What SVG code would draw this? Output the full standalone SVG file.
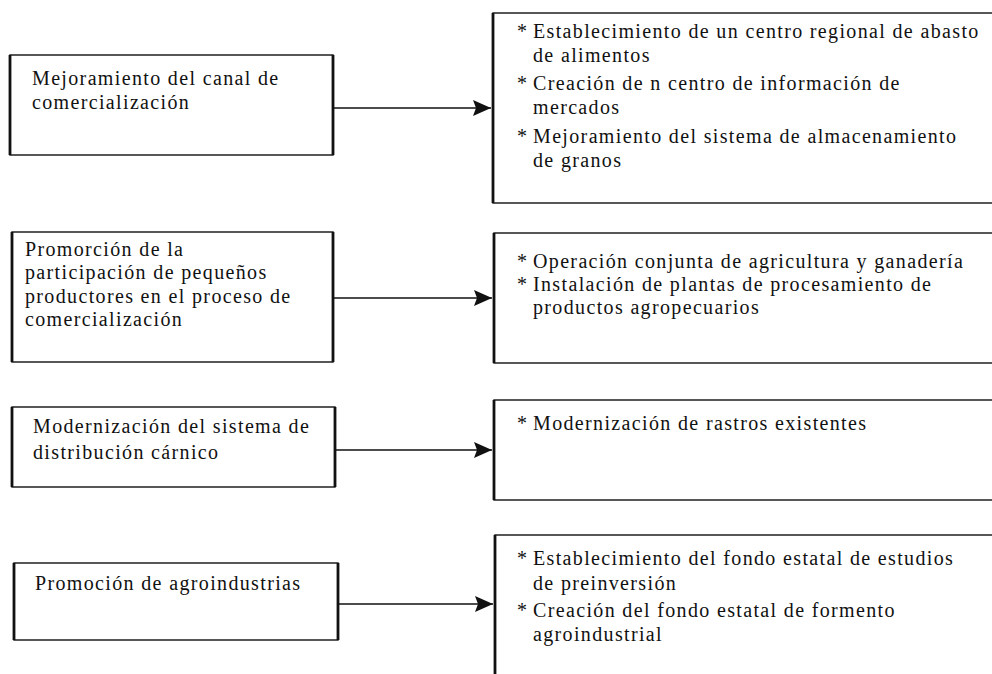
<svg xmlns="http://www.w3.org/2000/svg" width="992" height="674" viewBox="0 0 992 674">
<style>
.t{font-family:"Liberation Serif","Times New Roman",serif;font-size:20px;letter-spacing:1.35px;fill:#111}
.box{fill:none;stroke:#111;stroke-width:1.4}
.side{stroke:#111;stroke-width:2.8;fill:none}
.arr{stroke:#111;stroke-width:1.4;fill:none}
</style>
<defs>
<marker id="ah" viewBox="0 0 18 16" refX="18" refY="8" markerWidth="18" markerHeight="16" markerUnits="userSpaceOnUse" orient="auto">
<path d="M0,0 L18,8 L0,16 L3,8 Z" fill="#111"/>
</marker>
</defs>
<rect width="992" height="674" fill="#fff"/>

<g id="L1">
<rect class="box" x="10" y="55" width="323" height="100"/>
<path class="side" d="M10,55V155M333,55V155"/>
<text class="t" x="32" y="85">Mejoramiento del canal de</text>
<text class="t" x="32" y="109">comercialización</text>
</g>
<g id="L2">
<rect class="box" x="12" y="232" width="321" height="130"/>
<path class="side" d="M12,232V362M333,232V362"/>
<text class="t" x="25" y="256">Promorción de la</text>
<text class="t" x="25" y="279">participación de pequeños</text>
<text class="t" x="25" y="303">productores en el proceso de</text>
<text class="t" x="25" y="326">comercialización</text>
</g>
<g id="L3">
<rect class="box" x="12" y="407" width="323" height="80"/>
<path class="side" d="M12,407V487M335,407V487"/>
<text class="t" x="33" y="433">Modernización del sistema de</text>
<text class="t" x="33" y="459">distribución cárnico</text>
</g>
<g id="L4">
<rect class="box" x="14" y="563" width="324" height="77"/>
<path class="side" d="M14,563V640M338,563V640"/>
<text class="t" x="35" y="590">Promoción de agroindustrias</text>
</g>

<g id="R1">
<rect class="box" x="493" y="13" width="520" height="190"/>
<path class="side" d="M493,13V203"/>
<text class="t" x="517" y="38">*</text><text class="t" x="533" y="38">Establecimiento de un centro regional de abasto</text>
<text class="t" x="533" y="62">de alimentos</text>
<text class="t" x="517" y="90">*</text><text class="t" x="533" y="90">Creación de n centro de información de</text>
<text class="t" x="533" y="114">mercados</text>
<text class="t" x="517" y="143">*</text><text class="t" x="533" y="143">Mejoramiento del sistema de almacenamiento</text>
<text class="t" x="533" y="167">de granos</text>
</g>
<g id="R2">
<rect class="box" x="494" y="233" width="520" height="130"/>
<path class="side" d="M494,233V363"/>
<text class="t" x="517" y="268">*</text><text class="t" x="533" y="268">Operación conjunta de agricultura y ganadería</text>
<text class="t" x="517" y="291">*</text><text class="t" x="533" y="291">Instalación de plantas de procesamiento de</text>
<text class="t" x="533" y="314">productos agropecuarios</text>
</g>
<g id="R3">
<rect class="box" x="494" y="400" width="520" height="100"/>
<path class="side" d="M494,400V500"/>
<text class="t" x="517" y="430">*</text><text class="t" x="533" y="430">Modernización de rastros existentes</text>
</g>
<g id="R4">
<rect class="box" x="495" y="535" width="520" height="170"/>
<path class="side" d="M495,535V674"/>
<text class="t" x="517" y="565">*</text><text class="t" x="533" y="565">Establecimiento del fondo estatal de estudios</text>
<text class="t" x="533" y="590">de preinversión</text>
<text class="t" x="517" y="617">*</text><text class="t" x="533" y="617">Creación del fondo estatal de formento</text>
<text class="t" x="533" y="641">agroindustrial</text>
</g>

<g id="connectors">
<line class="arr" x1="333" y1="108" x2="491" y2="108" marker-end="url(#ah)"/>
<line class="arr" x1="333" y1="298" x2="492" y2="298" marker-end="url(#ah)"/>
<line class="arr" x1="335" y1="450" x2="492" y2="450" marker-end="url(#ah)"/>
<line class="arr" x1="338" y1="604" x2="493" y2="604" marker-end="url(#ah)"/>
</g>
</svg>
